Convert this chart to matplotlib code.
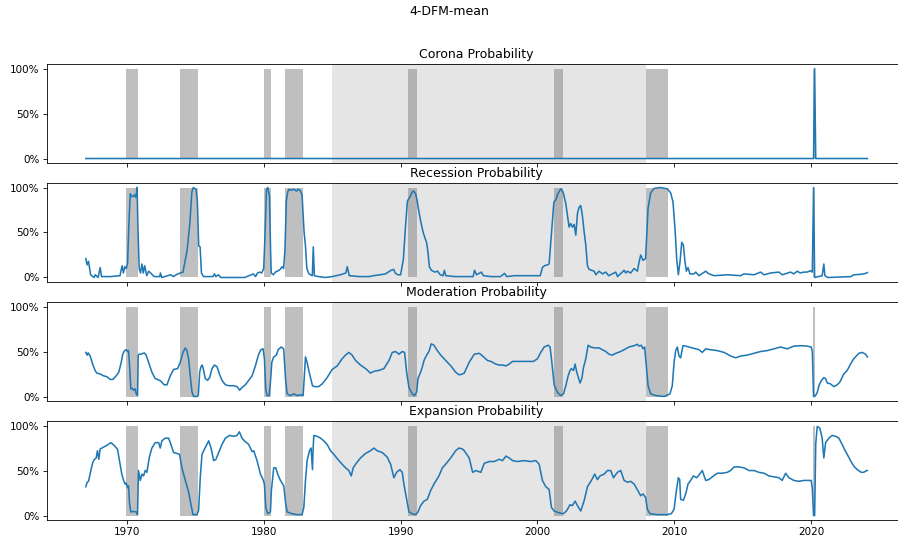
import matplotlib
matplotlib.use("Agg")
import matplotlib.pyplot as plt
import numpy as np
from matplotlib.ticker import PercentFormatter, MultipleLocator, FormatStrFormatter

titles = ["Corona Probability", "Recession Probability",
          "Moderation Probability", "Expansion Probability"]

# NBER recessions (decimal years) and the great moderation band
rec_start = [1969.95, 1973.85, 1980.04, 1981.52, 1990.54, 2001.24, 2007.96, 2020.1]
rec_end = [1970.85, 1975.19, 1980.53, 1982.87, 1991.22, 2001.9, 2009.5, 2020.25]
moderation = [1985.0, 2007.96]

corona_t = [1967.0, 2020.17, 2020.25, 2020.33, 2024.1]
corona_p = [0, 0, 1.0, 0, 0]

rec_t = [1967.0, 1967.1, 1967.2, 1967.35, 1967.6, 1967.7, 1967.9, 1968.05, 1968.15, 1968.8,
         1969.5, 1969.65, 1969.75, 1969.85, 1969.95, 1970.05, 1970.15, 1970.25, 1970.35, 1970.45,
         1970.55, 1970.65, 1970.75, 1970.8, 1970.9, 1971.0, 1971.1, 1971.2, 1971.3, 1971.45,
         1971.6, 1971.8, 1972.0, 1972.4, 1972.45, 1972.55, 1973.2, 1973.4, 1973.6, 1973.9,
         1974.1, 1974.4, 1974.6, 1974.75, 1974.85, 1975.05, 1975.15, 1975.25, 1975.35, 1975.45,
         1975.6, 1976.3, 1976.4, 1976.5, 1976.7, 1976.85, 1978.6, 1979.25, 1979.4, 1979.55,
         1979.7, 1979.85, 1980.0, 1980.1, 1980.2, 1980.3, 1980.42, 1980.5, 1980.55, 1980.7,
         1980.85, 1981.0, 1981.2, 1981.35, 1981.45, 1981.55, 1981.65, 1981.75, 1981.85, 1982.0,
         1982.2, 1982.4, 1982.5, 1982.65, 1982.8, 1982.95, 1983.05, 1983.15, 1983.3, 1983.55,
         1983.62, 1983.7, 1984.0, 1984.5, 1985.0, 1985.6, 1986.0, 1986.1, 1986.25, 1987.0,
         1987.7, 1988.0, 1988.5, 1988.9, 1989.3, 1989.5, 1989.6, 1989.8, 1990.0, 1990.2,
         1990.35, 1990.5, 1990.7, 1990.85, 1990.95, 1991.1, 1991.2, 1991.35, 1991.5, 1991.65,
         1991.8, 1991.9, 1992.0, 1992.1, 1992.25, 1992.5, 1992.7, 1992.9, 1993.1, 1993.2,
         1993.3, 1994.0, 1995.3, 1995.4, 1995.55, 1995.9, 1996.05, 1996.6, 1997.3, 1997.6,
         1997.75, 1998.3, 2000.2, 2000.36, 2000.5, 2000.73, 2000.85, 2000.97, 2001.2, 2001.34,
         2001.46, 2001.7, 2001.87, 2002.07, 2002.19, 2002.31, 2002.43, 2002.55, 2002.68, 2002.8,
         2002.92, 2003.04, 2003.16, 2003.28, 2003.4, 2003.53, 2003.65, 2003.77, 2004.14, 2004.26,
         2004.5, 2004.75, 2004.99, 2005.2, 2005.72, 2005.85, 2006.33, 2006.45, 2006.57, 2006.81,
         2007.06, 2007.3, 2007.42, 2007.54, 2007.71, 2007.9, 2008.08, 2008.27, 2008.52, 2009.0,
         2009.49, 2009.73, 2009.9, 2010.05, 2010.17, 2010.29, 2010.41, 2010.54, 2010.66, 2010.78,
         2010.88, 2011.0, 2011.14, 2011.44, 2011.56, 2011.8, 2012.29, 2012.48, 2012.9, 2013.87,
         2014.84, 2015.09, 2015.82, 2016.3, 2016.55, 2017.03, 2017.64, 2017.88, 2018.49, 2018.73,
         2018.98, 2019.2, 2019.46, 2019.7, 2019.95, 2020.08, 2020.17, 2020.25, 2020.8, 2020.92,
         2021.0, 2021.2, 2022.9, 2023.1, 2023.6, 2023.97, 2024.1]
rec_p = [0.21, 0.14, 0.18, 0.03, 0.0, 0.03, 0.0, 0.11, 0.01, 0.01,
         0.02, 0.13, 0.05, 0.12, 0.1, 0.15, 0.6, 0.93, 0.9, 0.9,
         0.92, 0.89, 1.0, 0.6, 0.1, 0.05, 0.15, 0.05, 0.13, 0.02,
         0.07, 0.04, 0.01, 0.01, 0.05, 0.0, 0.03, 0.01, 0.03, 0.05,
         0.06, 0.3, 0.6, 0.95, 1.0, 0.98, 0.85, 0.35, 0.34, 0.05,
         0.01, 0.01, 0.04, 0.01, 0.03, 0.0, 0.0, 0.04, 0.01, 0.05,
         0.06, 0.05, 0.1, 0.5, 0.98, 1.0, 0.9, 0.3, 0.05, 0.03,
         0.06, 0.07, 0.09, 0.12, 0.1, 0.3, 0.85, 0.95, 0.98, 0.97,
         0.98, 0.96, 0.98, 0.97, 0.92, 0.5, 0.35, 0.1, 0.04, 0.02,
         0.34, 0.02, 0.01, 0.0, 0.01, 0.03, 0.05, 0.12, 0.02, 0.01,
         0.01, 0.02, 0.03, 0.04, 0.08, 0.09, 0.05, 0.03, 0.03, 0.2,
         0.55, 0.85, 0.9, 0.95, 0.96, 0.93, 0.86, 0.72, 0.6, 0.5,
         0.43, 0.39, 0.28, 0.12, 0.08, 0.06, 0.07, 0.03, 0.02, 0.08,
         0.02, 0.01, 0.01, 0.08, 0.03, 0.06, 0.02, 0.01, 0.01, 0.045,
         0.01, 0.02, 0.02, 0.11, 0.13, 0.14, 0.15, 0.39, 0.84, 0.86,
         0.92, 0.985, 0.95, 0.82, 0.69, 0.56, 0.6, 0.56, 0.59, 0.47,
         0.71, 0.78, 0.8, 0.69, 0.52, 0.36, 0.13, 0.09, 0.07, 0.03,
         0.07, 0.04, 0.06, 0.02, 0.06, 0.01, 0.08, 0.05, 0.07, 0.05,
         0.1, 0.07, 0.17, 0.25, 0.19, 0.21, 0.77, 0.94, 0.99, 1.0,
         0.985, 0.94, 0.84, 0.54, 0.21, 0.03, 0.17, 0.39, 0.36, 0.17,
         0.07, 0.11, 0.04, 0.04, 0.06, 0.02, 0.07, 0.045, 0.02, 0.03,
         0.02, 0.04, 0.03, 0.06, 0.03, 0.05, 0.06, 0.03, 0.06, 0.04,
         0.07, 0.05, 0.06, 0.06, 0.075, 0.06, 1.0, 0.0, 0.02, 0.15,
         0.02, 0.0, 0.01, 0.03, 0.035, 0.045, 0.055]

mod_t = [1967.0, 1967.1, 1967.17, 1967.32, 1967.5, 1967.68, 1967.8, 1968.05, 1968.3, 1968.54,
         1968.78, 1968.98, 1969.22, 1969.41, 1969.59, 1969.7, 1969.83, 1969.95, 1970.05, 1970.12,
         1970.2, 1970.29, 1970.39, 1970.49, 1970.61, 1970.68, 1970.78, 1970.83, 1970.9, 1971.05,
         1971.27, 1971.41, 1971.59, 1971.83, 1972.07, 1972.24, 1972.49, 1972.73, 1972.93, 1973.17,
         1973.41, 1973.71, 1973.9, 1974.1, 1974.27, 1974.39, 1974.51, 1974.63, 1974.76, 1974.88,
         1975.12, 1975.22, 1975.32, 1975.41, 1975.51, 1975.61, 1975.73, 1975.9, 1976.05, 1976.22,
         1976.39, 1976.59, 1976.76, 1976.95, 1977.2, 1977.44, 1977.8, 1978.05, 1978.24, 1978.41,
         1978.66, 1978.9, 1979.15, 1979.39, 1979.63, 1979.8, 1979.95, 1980.05, 1980.15, 1980.24,
         1980.39, 1980.49, 1980.59, 1980.73, 1980.93, 1981.05, 1981.27, 1981.46, 1981.59, 1981.71,
         1981.95, 1982.2, 1982.44, 1982.68, 1982.88, 1982.98, 1983.05, 1983.17, 1983.29, 1983.46,
         1983.56, 1983.71, 1984.02, 1984.27, 1984.63, 1985.0, 1985.37, 1985.73, 1985.98, 1986.22,
         1986.46, 1986.71, 1987.07, 1987.44, 1987.8, 1988.05, 1988.41, 1988.78, 1989.15, 1989.39,
         1989.63, 1989.88, 1990.12, 1990.29, 1990.44, 1990.61, 1990.85, 1991.02, 1991.17, 1991.27,
         1991.46, 1991.59, 1991.71, 1991.9, 1992.07, 1992.24, 1992.44, 1992.68, 1992.93, 1993.3,
         1993.67, 1994.02, 1994.28, 1994.51, 1994.65, 1995.01, 1995.38, 1995.74, 1995.99, 1996.35,
         1996.6, 1996.96, 1997.2, 1997.45, 1997.69, 1997.93, 1998.18, 1998.54, 1998.91, 1999.27,
         1999.71, 2000.0, 2000.24, 2000.49, 2000.78, 2000.92, 2001.05, 2001.22, 2001.46, 2001.7,
         2001.9, 2002.07, 2002.24, 2002.38, 2002.48, 2002.63, 2002.75, 2002.87, 2002.99, 2003.11,
         2003.24, 2003.36, 2003.53, 2003.7, 2003.89, 2004.14, 2004.5, 2004.74, 2004.99, 2005.23,
         2005.47, 2005.72, 2006.08, 2006.33, 2006.69, 2007.06, 2007.3, 2007.42, 2007.59, 2007.71,
         2007.83, 2007.98, 2008.08, 2008.27, 2008.64, 2009.25, 2009.68, 2009.85, 2009.98, 2010.1,
         2010.22, 2010.34, 2010.46, 2010.63, 2010.83, 2011.07, 2011.44, 2011.8, 2012.04, 2012.29,
         2012.65, 2013.14, 2013.63, 2014.11, 2014.48, 2014.84, 2015.33, 2015.82, 2016.3, 2016.79,
         2017.27, 2017.76, 2018.25, 2018.73, 2019.22, 2019.71, 2020.0, 2020.08, 2020.17, 2020.25,
         2020.33, 2020.44, 2020.56, 2020.73, 2020.92, 2021.05, 2021.17, 2021.41, 2021.65, 2021.9,
         2022.09, 2022.38, 2022.63, 2022.87, 2023.11, 2023.48, 2023.72, 2023.97, 2024.1]
mod_p = [0.49, 0.46, 0.485, 0.45, 0.36, 0.29, 0.26, 0.25, 0.23, 0.22,
         0.19, 0.19, 0.23, 0.27, 0.38, 0.47, 0.51, 0.52, 0.5, 0.51,
         0.34, 0.085, 0.09, 0.07, 0.085, 0.03, 0.01, 0.46, 0.47, 0.47,
         0.485, 0.46, 0.38, 0.27, 0.2, 0.19, 0.17, 0.13, 0.13, 0.23,
         0.3, 0.31, 0.38, 0.49, 0.54, 0.51, 0.42, 0.23, 0.05, 0.0,
         0.0, 0.01, 0.27, 0.33, 0.35, 0.29, 0.2, 0.18, 0.21, 0.31,
         0.35, 0.33, 0.25, 0.18, 0.13, 0.12, 0.12, 0.11, 0.07, 0.1,
         0.13, 0.18, 0.23, 0.34, 0.47, 0.52, 0.53, 0.42, 0.085, 0.01,
         0.01, 0.16, 0.38, 0.44, 0.46, 0.52, 0.55, 0.53, 0.2, 0.03,
         0.01, 0.03, 0.01, 0.02, 0.01, 0.27, 0.44, 0.38, 0.29, 0.18,
         0.12, 0.11, 0.11, 0.14, 0.21, 0.3, 0.34, 0.42, 0.46, 0.49,
         0.46, 0.4, 0.35, 0.31, 0.26, 0.28, 0.29, 0.31, 0.4, 0.49,
         0.5, 0.47, 0.5, 0.49, 0.27, 0.1, 0.03, 0.01, 0.05, 0.2,
         0.27, 0.33, 0.4, 0.46, 0.5, 0.585, 0.57, 0.51, 0.46, 0.4,
         0.34, 0.27, 0.24, 0.25, 0.26, 0.38, 0.47, 0.48, 0.45, 0.4,
         0.39, 0.36, 0.35, 0.35, 0.34, 0.36, 0.39, 0.39, 0.39, 0.39,
         0.39, 0.42, 0.49, 0.55, 0.57, 0.55, 0.38, 0.13, 0.045, 0.01,
         0.03, 0.12, 0.23, 0.29, 0.31, 0.29, 0.36, 0.27, 0.21, 0.15,
         0.2, 0.32, 0.42, 0.57, 0.55, 0.54, 0.54, 0.52, 0.5, 0.47,
         0.46, 0.48, 0.5, 0.52, 0.55, 0.565, 0.58, 0.56, 0.57, 0.53,
         0.55, 0.3, 0.12, 0.03, 0.01, 0.0, 0.03, 0.12, 0.38, 0.51,
         0.55, 0.45, 0.43, 0.565, 0.56, 0.55, 0.535, 0.52, 0.49, 0.53,
         0.52, 0.51, 0.49, 0.45, 0.43, 0.45, 0.46, 0.48, 0.5, 0.51,
         0.53, 0.55, 0.53, 0.56, 0.565, 0.56, 0.55, 0.5, 0.0, 0.0,
         0.015, 0.045, 0.12, 0.175, 0.21, 0.2, 0.15, 0.14, 0.11, 0.13,
         0.16, 0.25, 0.29, 0.36, 0.42, 0.48, 0.49, 0.47, 0.44]

exp_t = [1967.0, 1967.1, 1967.2, 1967.37, 1967.51, 1967.63, 1967.76, 1967.85, 1967.95, 1968.05,
         1968.29, 1968.54, 1968.83, 1969.07, 1969.32, 1969.46, 1969.63, 1969.76, 1969.88, 1969.95,
         1970.05, 1970.12, 1970.2, 1970.29, 1970.49, 1970.68, 1970.78, 1970.85, 1970.98, 1971.1,
         1971.22, 1971.34, 1971.46, 1971.66, 1971.83, 1972.07, 1972.32, 1972.44, 1972.56, 1972.8,
         1973.05, 1973.22, 1973.41, 1973.66, 1973.85, 1974.02, 1974.27, 1974.51, 1974.68, 1974.83,
         1975.12, 1975.24, 1975.37, 1975.49, 1975.66, 1975.85, 1975.98, 1976.15, 1976.34, 1976.51,
         1976.71, 1976.95, 1977.2, 1977.51, 1977.8, 1978.05, 1978.22, 1978.41, 1978.59, 1978.9,
         1979.15, 1979.27, 1979.51, 1979.76, 1979.95, 1980.05, 1980.15, 1980.29, 1980.49, 1980.56,
         1980.73, 1980.88, 1981.02, 1981.22, 1981.46, 1981.59, 1981.71, 1982.07, 1982.44, 1982.8,
         1982.93, 1983.05, 1983.17, 1983.34, 1983.46, 1983.56, 1983.61, 1983.66, 1983.9, 1984.15,
         1984.39, 1984.63, 1984.88, 1985.12, 1985.41, 1985.73, 1985.98, 1986.22, 1986.39, 1986.54,
         1986.71, 1987.07, 1987.44, 1987.8, 1988.05, 1988.29, 1988.66, 1989.02, 1989.27, 1989.51,
         1989.71, 1989.95, 1990.12, 1990.24, 1990.44, 1990.61, 1990.85, 1991.1, 1991.27, 1991.46,
         1991.71, 1991.95, 1992.2, 1992.44, 1992.8, 1993.05, 1993.29, 1993.66, 1994.02, 1994.27,
         1994.51, 1994.65, 1995.01, 1995.26, 1995.5, 1995.86, 1996.11, 1996.47, 1996.84, 1997.2,
         1997.45, 1997.69, 1997.93, 1998.18, 1998.54, 1999.03, 1999.51, 1999.88, 2000.12, 2000.36,
         2000.61, 2000.85, 2001.02, 2001.22, 2001.58, 2001.9, 2002.14, 2002.38, 2002.55, 2002.75,
         2002.92, 2003.16, 2003.41, 2003.65, 2003.94, 2004.18, 2004.38, 2004.57, 2004.87, 2005.11,
         2005.35, 2005.55, 2005.84, 2006.08, 2006.33, 2006.57, 2006.81, 2007.06, 2007.35, 2007.54,
         2007.71, 2007.9, 2008.03, 2008.22, 2008.76, 2009.49, 2009.78, 2009.98, 2010.15, 2010.29,
         2010.39, 2010.46, 2010.66, 2010.83, 2011.0, 2011.19, 2011.39, 2011.63, 2011.8, 2012.04,
         2012.29, 2012.53, 2012.77, 2013.14, 2013.5, 2013.87, 2014.11, 2014.36, 2014.72, 2015.09,
         2015.45, 2015.82, 2016.18, 2016.55, 2016.91, 2017.27, 2017.64, 2017.88, 2018.13, 2018.37,
         2018.73, 2019.1, 2019.46, 2019.83, 2020.0, 2020.08, 2020.17, 2020.25, 2020.33, 2020.44,
         2020.63, 2020.8, 2020.92, 2021.05, 2021.29, 2021.53, 2021.78, 2022.02, 2022.26, 2022.43,
         2022.63, 2022.87, 2023.11, 2023.36, 2023.65, 2023.84, 2024.04, 2024.1]
exp_p = [0.32, 0.37, 0.38, 0.5, 0.59, 0.625, 0.64, 0.72, 0.625, 0.74,
         0.76, 0.78, 0.81, 0.78, 0.735, 0.61, 0.46, 0.39, 0.35, 0.36,
         0.31, 0.33, 0.13, 0.04, 0.045, 0.04, 0.01, 0.5, 0.39, 0.46,
         0.44, 0.5, 0.48, 0.66, 0.75, 0.81, 0.81, 0.75, 0.83, 0.86,
         0.86, 0.79, 0.7, 0.69, 0.68, 0.53, 0.39, 0.26, 0.13, 0.01,
         0.01, 0.055, 0.44, 0.68, 0.735, 0.79, 0.83, 0.75, 0.61, 0.625,
         0.7, 0.79, 0.86, 0.89, 0.88, 0.89, 0.93, 0.86, 0.83, 0.79,
         0.71, 0.72, 0.61, 0.46, 0.4, 0.35, 0.09, 0.02, 0.04, 0.28,
         0.53, 0.53, 0.46, 0.39, 0.33, 0.15, 0.04, 0.02, 0.01, 0.01,
         0.09, 0.39, 0.61, 0.72, 0.75, 0.51, 0.75, 0.89, 0.88, 0.86,
         0.83, 0.79, 0.72, 0.68, 0.625, 0.57, 0.53, 0.5, 0.44, 0.53,
         0.57, 0.64, 0.69, 0.72, 0.75, 0.72, 0.7, 0.65, 0.57, 0.42,
         0.48, 0.51, 0.48, 0.35, 0.18, 0.04, 0.02, 0.01, 0.04, 0.11,
         0.16, 0.18, 0.28, 0.35, 0.44, 0.53, 0.57, 0.64, 0.72, 0.75,
         0.74, 0.72, 0.64, 0.48, 0.5, 0.48, 0.58, 0.6, 0.6, 0.625,
         0.61, 0.66, 0.64, 0.61, 0.6, 0.61, 0.6, 0.61, 0.57, 0.39,
         0.32, 0.29, 0.09, 0.05, 0.03, 0.02, 0.055, 0.12, 0.11, 0.16,
         0.11, 0.05, 0.165, 0.32, 0.39, 0.46, 0.4, 0.44, 0.46, 0.5,
         0.5, 0.42, 0.48, 0.5, 0.39, 0.37, 0.38, 0.35, 0.27, 0.22,
         0.24, 0.2, 0.07, 0.02, 0.01, 0.01, 0.02, 0.07, 0.28, 0.42,
         0.4, 0.18, 0.17, 0.24, 0.35, 0.39, 0.44, 0.42, 0.45, 0.5,
         0.39, 0.4, 0.43, 0.47, 0.47, 0.48, 0.5, 0.54, 0.54, 0.53,
         0.5, 0.5, 0.48, 0.47, 0.44, 0.43, 0.42, 0.39, 0.47, 0.42,
         0.39, 0.38, 0.39, 0.39, 0.39, 0.3, 0.0, 0.0, 0.8, 0.99,
         0.97, 0.86, 0.64, 0.81, 0.86, 0.89, 0.88, 0.86, 0.79, 0.735,
         0.68, 0.61, 0.55, 0.51, 0.48, 0.48, 0.5, 0.5]

series = [(corona_t, corona_p), (rec_t, rec_p), (mod_t, mod_p), (exp_t, exp_p)]

fig = plt.figure(figsize=(898/75, 540/75), dpi=75)
fig.suptitle("4-DFM-mean", y=0.978, va="center")

bottoms = [0.6981, 0.4778, 0.2574, 0.0370]
axes = []
for i in range(4):
    if i == 0:
        ax = fig.add_axes([0.0521, bottoms[i], 0.9572, 0.1833])
    else:
        ax = fig.add_axes([0.0521, bottoms[i], 0.9572, 0.1833], sharex=axes[0])
    axes.append(ax)

for i, ax in enumerate(axes):
    t, p = series[i]
    ax.axvspan(moderation[0], moderation[1], color="gray", alpha=0.2, lw=0)
    for s, e in zip(rec_start, rec_end):
        ax.fill_between([s, e], 0, 1, color="gray", alpha=0.5, lw=0)
    ax.plot(t, p)
    ax.set_title(titles[i])
    ax.set_ylim(-0.05, 1.05)
    ax.set_yticks([0, 0.5, 1])
    ax.yaxis.set_major_formatter(PercentFormatter(1.0, decimals=0))
    if i < 3:
        ax.tick_params(labelbottom=False)

axes[0].set_xlim(1964.15, 2026.95)
axes[0].xaxis.set_major_locator(MultipleLocator(10))
axes[0].xaxis.set_major_formatter(FormatStrFormatter("%d"))

fig.savefig("out.png", dpi=75)
